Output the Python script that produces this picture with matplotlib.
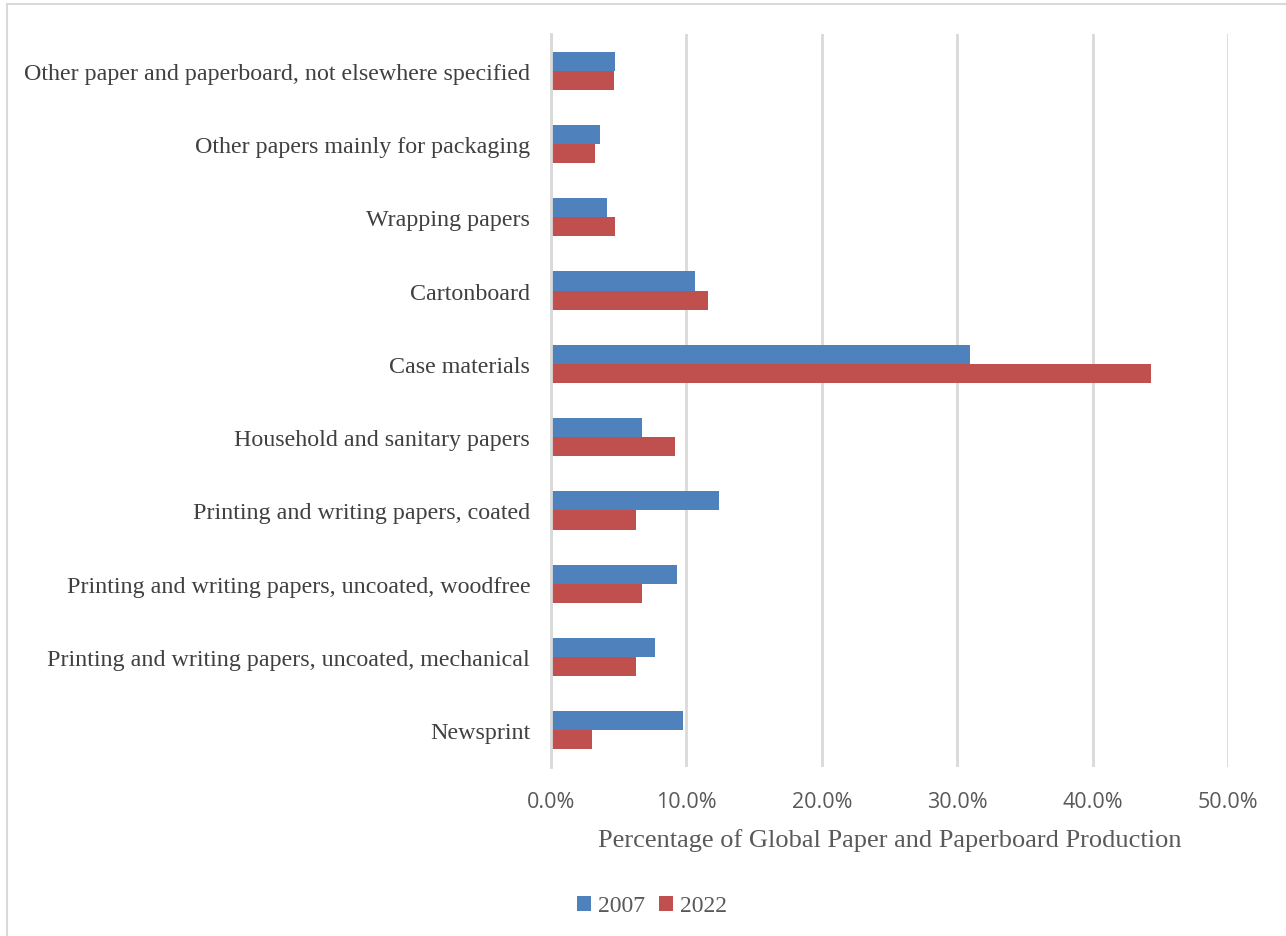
import numpy as np
import matplotlib.pyplot as plt
from matplotlib.patches import Rectangle
from matplotlib.ticker import PercentFormatter

categories = [
    "Newsprint",
    "Printing and writing papers, uncoated, mechanical",
    "Printing and writing papers, uncoated, woodfree",
    "Printing and writing papers, coated",
    "Household and sanitary papers",
    "Case materials",
    "Cartonboard",
    "Wrapping papers",
    "Other papers mainly for packaging",
    "Other paper and paperboard, not elsewhere specified",
]
share_2007 = [9.75, 7.7, 9.28, 12.44, 6.72, 30.96, 10.64, 4.1, 3.6, 4.72]
share_2022 = [3.04, 6.27, 6.69, 6.27, 9.14, 44.3, 11.6, 4.74, 3.26, 4.62]
series_labels = ["2007", "2022"]
colors = ["#4F81BD", "#C0504D"]

fig = plt.figure(figsize=(12.86, 9.37), dpi=100)
ax = fig.add_axes([551 / 1286, 1 - 768 / 937, (1228 - 551) / 1286, (768 - 35) / 937])

# light chart-area border like the spreadsheet export
fig.patches.append(Rectangle((7 / 1286, -0.01), 1.2, 1 - 5 / 937 + 0.01,
                             transform=fig.transFigure, fill=False,
                             edgecolor="#D9D9D9", linewidth=1.5))

y = np.arange(len(categories))
h = 0.26
ax.barh(y + h / 2, share_2007, height=h, color=colors[0], label=series_labels[0])
ax.barh(y - h / 2, share_2022, height=h, color=colors[1], label=series_labels[1])

ax.set_xlim(0, 50)
ax.set_ylim(-0.5, len(categories) - 0.5)
ax.set_xticks(np.arange(0, 51, 10))
ax.xaxis.set_major_formatter(PercentFormatter(decimals=1))
ax.set_yticks(y)
ax.set_yticklabels(categories, fontfamily="Liberation Serif", fontsize=17.3, color="#404040")
for lab in ax.get_xticklabels():
    lab.set_fontfamily("Open Sans")
    lab.set_fontsize(15.5)
    lab.set_color("#595959")
ax.tick_params(axis="both", length=0)
ax.tick_params(axis="x", pad=17)
ax.tick_params(axis="y", pad=15)

ax.grid(axis="x", color="#D9D9D9", linewidth=2)
ax.set_axisbelow(True)
for s in ["top", "right", "bottom"]:
    ax.spines[s].set_visible(False)
ax.spines["left"].set_color("#D9D9D9")
ax.spines["left"].set_linewidth(2)

ax.set_xlabel("Percentage of Global Paper and Paperboard Production",
              fontfamily="Liberation Serif", fontsize=19, color="#595959", labelpad=12)

fig.legend(loc="center", bbox_to_anchor=(652 / 1286, 1 - 907 / 937), ncol=2,
           frameon=False, handlelength=0.6, handleheight=0.6, handletextpad=0.3,
           columnspacing=0.6, prop={"family": "Liberation Serif", "size": 17},
           labelcolor="#595959")

fig.savefig("out.png", dpi=100)
